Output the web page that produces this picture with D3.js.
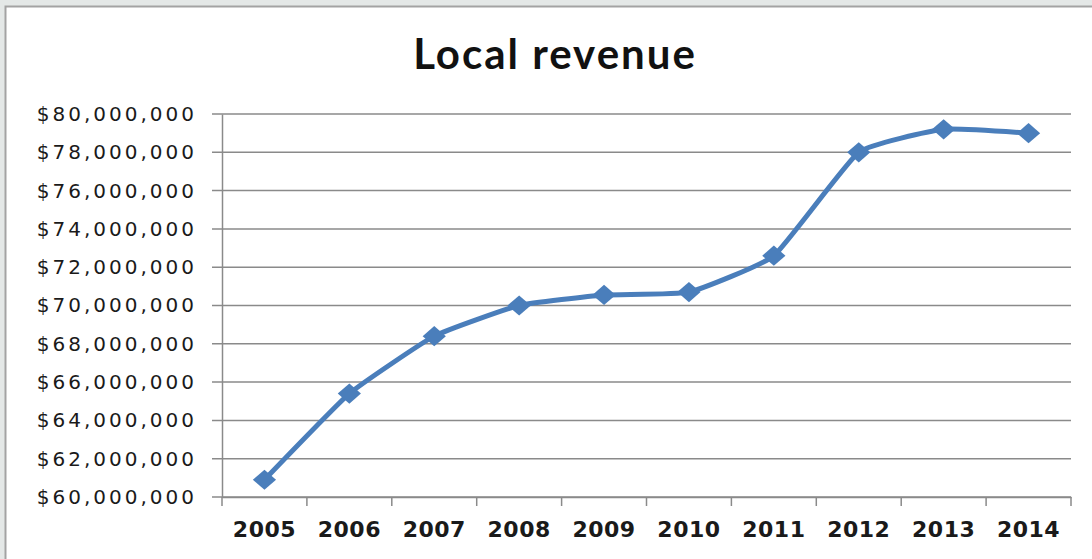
<!DOCTYPE html>
<html>
<head>
<meta charset="utf-8">
<script src="https://cdn.jsdelivr.net/npm/d3@7"></script>
<style>
  body { margin: 0; background: #e4e8e7; }
  svg { display: block; }
</style>
</head>
<body>
<svg id="chart"></svg>
<script>
const years = ["2005", "2006", "2007", "2008", "2009", "2010", "2011", "2012", "2013", "2014"];
const revenue = [60900000, 65400000, 68400000, 70000000, 70550000, 70700000, 72600000, 78000000, 79200000, 79000000];
const yTicks = [60000000, 62000000, 64000000, 66000000, 68000000, 70000000, 72000000, 74000000, 76000000, 78000000, 80000000];

const width = 1092;
const height = 559;
const margin = { top: 114, right: 21, bottom: 62, left: 222 };

const svg = d3.select("#chart")
    .attr("width", width)
    .attr("height", height);

// chart box
svg.append("rect")
    .attr("x", 5.5)
    .attr("y", 6.5)
    .attr("width", width)
    .attr("height", height)
    .attr("fill", "#fff")
    .attr("stroke", "#a3a3a3")
    .attr("stroke-width", 2);

const x = d3.scaleBand()
    .domain(years)
    .range([margin.left, width - margin.right]);

const y = d3.scaleLinear()
    .domain([60000000, 80000000])
    .range([height - margin.bottom, margin.top]);

// title
svg.append("text")
    .attr("x", 555)
    .attr("y", 69)
    .attr("text-anchor", "middle")
    .style("font-family", "Lato, 'Open Sans', sans-serif")
    .style("font-weight", "bold")
    .style("font-size", "42px")
    .style("letter-spacing", "2px")
    .style("fill", "#111")
    .text("Local revenue");

// gridlines
svg.append("g")
    .selectAll("line")
    .data(yTicks)
    .enter().append("line")
    .attr("x1", margin.left - 10)
    .attr("x2", width - margin.right)
    .attr("y1", d => y(d))
    .attr("y2", d => y(d))
    .style("stroke", "#8a8a8a")
    .style("stroke-width", 1.5);

// y axis
const yAxis = svg.append("g")
    .attr("transform", `translate(${margin.left}, 0)`)
    .call(d3.axisLeft(y).tickValues(yTicks).tickSize(0).tickPadding(28)
        .tickFormat(d => "$" + d3.format(",")(d)));
yAxis.select(".domain").style("stroke", "#8a8a8a").style("stroke-width", 1.5);
yAxis.selectAll("text")
    .attr("dx", "3px")
    .style("font-family", "'DejaVu Sans', Verdana, sans-serif")
    .style("font-size", "20px")
    .style("letter-spacing", "3px")
    .style("fill", "#1a1a1a");

// x axis
const xAxis = svg.append("g")
    .attr("transform", `translate(0, ${height - margin.bottom})`)
    .call(d3.axisBottom(x).tickSize(0).tickPadding(40));
xAxis.select(".domain").style("stroke", "#8a8a8a").style("stroke-width", 1.5);
xAxis.selectAll("text")
    .style("font-family", "'DejaVu Sans', Verdana, sans-serif")
    .style("font-weight", "bold")
    .style("font-size", "22px")
    .style("letter-spacing", "0.5px")
    .style("fill", "#1a1a1a")
    .attr("dy", "0");

// category boundary ticks
xAxis.append("g")
    .selectAll("line")
    .data(years.concat(["end"]))
    .enter().append("line")
    .attr("x1", (d, i) => i < years.length ? x(d) : x(years[years.length - 1]) + x.bandwidth())
    .attr("x2", (d, i) => i < years.length ? x(d) : x(years[years.length - 1]) + x.bandwidth())
    .attr("y1", 0)
    .attr("y2", 9)
    .style("stroke", "#8a8a8a")
    .style("stroke-width", 1.5);

// line
const line = d3.line()
    .x((d, i) => x(years[i]) + x.bandwidth() / 2)
    .y(d => y(d))
    .curve(d3.curveCardinal.tension(0.6));

svg.append("path")
    .datum(revenue)
    .attr("d", line)
    .attr("fill", "none")
    .attr("stroke", "#4a7ebb")
    .attr("stroke-width", 5)
    .attr("stroke-linejoin", "round");

// diamond markers
svg.append("g")
    .selectAll("path")
    .data(revenue)
    .enter().append("path")
    .attr("transform", (d, i) => `translate(${x(years[i]) + x.bandwidth() / 2}, ${y(d)}) scale(1.15, 1)`)
    .attr("d", d3.symbol().type(d3.symbolDiamond2).size(260))
    .attr("fill", "#4a7ebb");
</script>
</body>
</html>
